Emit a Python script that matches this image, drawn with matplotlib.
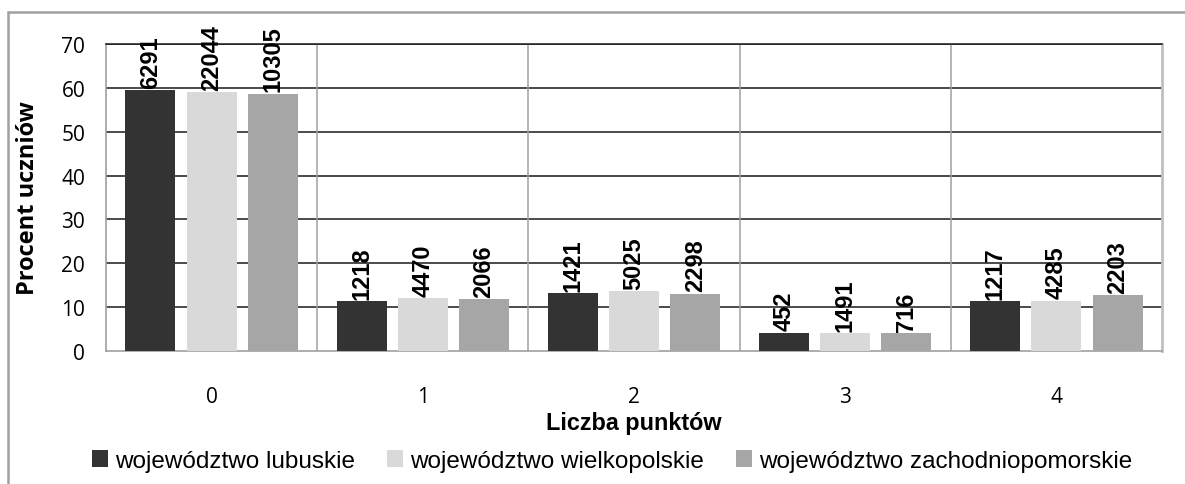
import matplotlib
matplotlib.use("Agg")
import matplotlib.pyplot as plt
import numpy as np
from matplotlib.patches import Rectangle, Patch

categories = ["0", "1", "2", "3", "4"]
series_names = ["województwo lubuskie", "województwo wielkopolskie", "województwo zachodniopomorskie"]
lubuskie = [59.4, 11.4, 13.3, 4.2, 11.4]
wielkopolskie = [59.1, 12.0, 13.6, 4.0, 11.5]
zachodniopomorskie = [58.7, 11.8, 13.1, 4.1, 12.8]
counts_lubuskie = [6291, 1218, 1421, 452, 1217]
counts_wielkopolskie = [22044, 4470, 5025, 1491, 4285]
counts_zachodniopomorskie = [10305, 2066, 2298, 716, 2203]
colors = ["#333333", "#d9d9d9", "#a6a6a6"]
yticks = [0, 10, 20, 30, 40, 50, 60, 70]

W, H = 1185, 485
fig = plt.figure(figsize=(W / 100, H / 100), dpi=100)
fig.patch.set_facecolor("white")

# outer chart frame (left + top visible)
fig.add_artist(Rectangle((8 / W, -0.1), 1.2, (H - 13) / H + 0.1, transform=fig.transFigure,
                         fill=False, edgecolor="#a0a0a0", linewidth=1.8))

left, right, top, bottom = 106, 1162, 45, 352
ax = fig.add_axes([left / W, 1 - bottom / H, (right - left) / W, (bottom - top) / H])

x = np.arange(len(categories))
width = 0.237
offsets = [-0.29, 0.0, 0.29]
all_vals = [lubuskie, wielkopolskie, zachodniopomorskie]
all_counts = [counts_lubuskie, counts_wielkopolskie, counts_zachodniopomorskie]

for vals, cnts, off, col, name in zip(all_vals, all_counts, offsets, colors, series_names):
    bars = ax.bar(x + off, vals, width, color=col, label=name, zorder=3)
    for b, c in zip(bars, cnts):
        ax.annotate(str(c), (b.get_x() + b.get_width() / 2, b.get_height()),
                    xytext=(0, 1.5), textcoords="offset points", rotation=90,
                    ha="center", va="bottom", fontsize=17, fontweight="bold",
                    family="Liberation Sans", color="black", zorder=5,
                    annotation_clip=False)

ax.set_xlim(-0.5, len(categories) - 0.5)
ax.set_ylim(0, 70)
ax.set_yticks(yticks)
ax.set_yticklabels([str(t) for t in yticks], family="Open Sans", fontsize=15)
ax.set_xticks(x)
ax.set_xticklabels(categories, family="Open Sans", fontsize=15)
ax.tick_params(axis="both", length=0)
ax.tick_params(axis="x", pad=25)
ax.tick_params(axis="y", pad=15)

# gridlines
for t in yticks[1:]:
    ax.axhline(t, color="#1a1a1a", linewidth=1.1, zorder=1)
for b in np.arange(0.5, len(categories) - 0.5, 1):
    ax.axvline(b, color="#a0a0a0", linewidth=1.1, zorder=1)

for s in ["left", "bottom"]:
    ax.spines[s].set_color("#a0a0a0")
    ax.spines[s].set_linewidth(1.2)
ax.spines["right"].set_color("#c0c0c0")
ax.spines["right"].set_linewidth(2)
ax.spines["top"].set_color("#1a1a1a")
ax.spines["top"].set_linewidth(1.1)

ax.set_ylabel("Procent uczniów", family="Open Sans", fontweight="bold", fontsize=17)
ax.yaxis.set_label_coords((28 - left) / (right - left), 0.5)
ax.yaxis.label.set_va("center")
ax.set_xlabel("Liczba punktów", family="Liberation Sans", fontweight="bold", fontsize=16.8)
ax.xaxis.set_label_coords(0.5, (bottom - 424) / (bottom - top))
ax.xaxis.label.set_va("center")

handles = [Patch(facecolor=c, edgecolor="none") for c in colors]
leg = fig.legend(handles, series_names, loc="center", bbox_to_anchor=(612 / W, 1 - 462 / H),
                 ncol=3, frameon=False, prop={"family": "Liberation Sans", "size": 17.5},
                 handlelength=0.66, handleheight=0.66, handletextpad=0.3,
                 columnspacing=1.3, borderpad=0, borderaxespad=0)

fig.savefig("out.png", dpi=100)
